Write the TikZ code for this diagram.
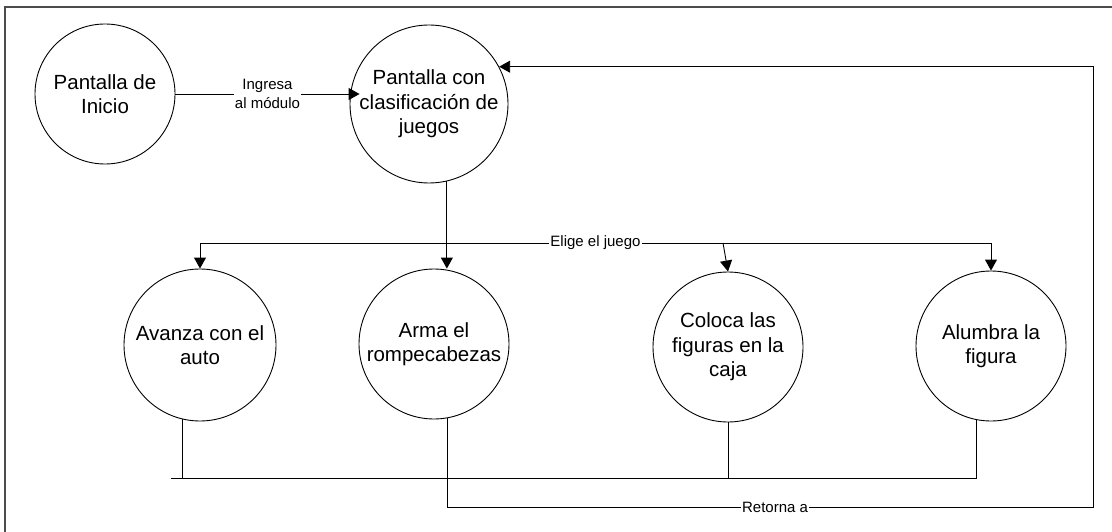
\documentclass[tikz,border=0pt]{standalone}
\usepackage{fontspec}
\setmainfont{Liberation Sans}
\usetikzlibrary{arrows.meta,calc}
\begin{document}
\begin{tikzpicture}[x=1pt,y=-1pt,
  proc/.style={draw, circle, line width=0.9pt, inner sep=-40pt, align=center,
    font=\fontsize{20.5}{24.5}\selectfont},
  lbl/.style={fill=white, inner sep=1pt, align=center,
    font=\fontsize{15}{19.5}\selectfont},
  flow/.style={line width=0.9pt},
  arr/.style={flow, -{Triangle[length=11pt,width=12pt]}},
  frame/.style={line width=1.2pt, black!70},
]
\useasboundingbox (0,0) rectangle (1112,532);
\draw[frame] (5,532) -- (5,7) -- (1112,7);

\node[proc, minimum size=140pt] (ini) at (105,94) {Pantalla de\\Inicio};
\node[proc, minimum size=158pt] (cls) at (429,104) {Pantalla con\\clasificación de\\juegos};
\node[proc, minimum size=152pt] (ava) at (200,345) {Avanza con el\\auto};
\node[proc, minimum size=150pt] (arm) at (434,344) {Arma el\\rompecabezas};
\node[proc, minimum size=150pt] (col) at (728,347) {Coloca las\\figuras en la\\caja};
\node[proc, minimum size=150pt] (alu) at (991,346) {Alumbra la\\figura};

\coordinate (bus) at (0,243);
\coordinate (bot) at (0,478);
\coordinate (ret) at (0,507);
\coordinate (rx) at (1093,0);

% Inicio -> clasificacion
\draw[arr] (ini.east) -- node[lbl] (ingresa) {Ingresa\\al módulo} ($(ini.east -| cls.west)+(10,0)$);

% clasificacion -> arma
\draw[arr] (cls.-77) -- (cls.-77 |- arm.north);

% Elige el juego
\draw[flow] (ava.north |- bus) -- node[lbl] (elige) {Elige el juego} (alu.north |- bus);
\draw[arr] (ava.north |- bus) -- (ava.north);
\draw[arr] ($(col.north |- bus)+(-5,0)$) -- (col.north);
\draw[arr] (alu.north |- bus) -- (alu.north);

% bottom bus
\draw[flow] (ava.-103) -- (ava.-103 |- bot);
\draw[flow] ($(ava.-103 |- bot)+(-12,0)$) -- (alu.-101 |- bot);
\draw[flow] (col.south) -- (col.south |- bot);
\draw[flow] (alu.-101) -- (alu.-101 |- bot);

% Retorna a
\draw[arr] (arm.-80) -- (arm.-80 |- ret) -- (rx |- ret) -- (rx |- cls.28) -- (cls.28);
\node[lbl] (retorna) at ($(arm.-80 |- ret)!0.5!(rx |- ret)+(5,0)$) {Retorna a};
\end{tikzpicture}
\end{document}
